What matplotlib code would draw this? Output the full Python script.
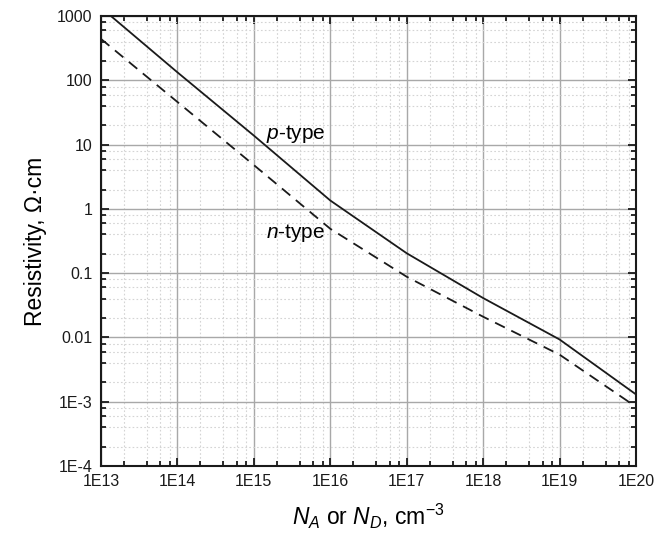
import matplotlib

matplotlib.use("Agg")
import matplotlib.pyplot as plt
from matplotlib.ticker import LogLocator, NullFormatter

plt.rcParams["font.family"] = ["Liberation Sans", "DejaVu Sans"]
plt.rcParams["mathtext.fontset"] = "custom"
plt.rcParams["mathtext.rm"] = "Liberation Sans"
plt.rcParams["mathtext.it"] = "Liberation Sans:italic"

# doping concentration (cm^-3) and resistivity (ohm*cm)
doping_p = [1.0e13, 1.0e14, 1.0e15, 1.0e16, 1.0e17, 1.0e18, 1.0e19, 1.0e20]
rho_p = [1350, 133, 13.8, 1.35, 0.204, 0.041, 0.0093, 0.0013]
doping_n = [1.0e13, 1.0e14, 1.0e15, 1.0e16, 1.0e17, 1.0e18, 1.0e19, 8.0e19]
rho_n = [440, 46, 4.8, 0.49, 0.088, 0.021, 0.0054, 0.001]

xticks = [1e13, 1e14, 1e15, 1e16, 1e17, 1e18, 1e19, 1e20]
xtick_labels = ["1E13", "1E14", "1E15", "1E16", "1E17", "1E18", "1E19", "1E20"]
yticks = [1e-4, 1e-3, 1e-2, 1e-1, 1, 10, 100, 1000]
ytick_labels = ["1E-4", "1E-3", "0.01", "0.1", "1", "10", "100", "1000"]
minor_subs = [2, 4, 6, 8]

fig = plt.figure(figsize=(6.62, 5.41), dpi=100)
ax = fig.add_axes([0.1526, 0.1386, 0.8081, 0.8318])

ax.plot(doping_p, rho_p, color="#1a1a1a", lw=1.3, zorder=3)
ax.plot(doping_n, rho_n, color="#1a1a1a", lw=1.3, ls=(0, (6, 4)), zorder=3)

ax.set_xscale("log")
ax.set_yscale("log")
ax.set_xlim(1e13, 1e20)
ax.set_ylim(1e-4, 1000)

ax.set_xticks(xticks)
ax.set_xticklabels(xtick_labels)
ax.set_yticks(yticks)
ax.set_yticklabels(ytick_labels)
ax.xaxis.set_minor_locator(LogLocator(base=10, subs=minor_subs, numticks=20))
ax.yaxis.set_minor_locator(LogLocator(base=10, subs=minor_subs, numticks=20))
ax.xaxis.set_minor_formatter(NullFormatter())
ax.yaxis.set_minor_formatter(NullFormatter())

ax.tick_params(which="both", direction="in", top=True, right=True,
               labelsize=11.5, width=1.3, colors="#1a1a1a")
ax.tick_params(which="major", length=6, pad=6)
ax.tick_params(which="minor", length=3.5)

ax.grid(True, which="major", color="#a8a8a8", lw=1.0, zorder=0)
ax.grid(True, which="minor", color="#d4d4d4", lw=0.8, ls=(0, (1.5, 2)), zorder=0)
for s in ax.spines.values():
    s.set_linewidth(1.5)
    s.set_color("#1a1a1a")

ax.text(1.45e15, 14.5, r"$p$-type", fontsize=15, va="center", ha="left")
ax.text(1.45e15, 0.42, r"$n$-type", fontsize=15, va="center", ha="left")

ax.set_xlabel(r"$N_A$ or $N_D$, cm$^{-3}$", fontsize=16.5, labelpad=9)
ax.set_ylabel("Resistivity, \u03a9\u00b7cm", fontsize=16.5, labelpad=7)

fig.savefig("out.png", dpi=100)
